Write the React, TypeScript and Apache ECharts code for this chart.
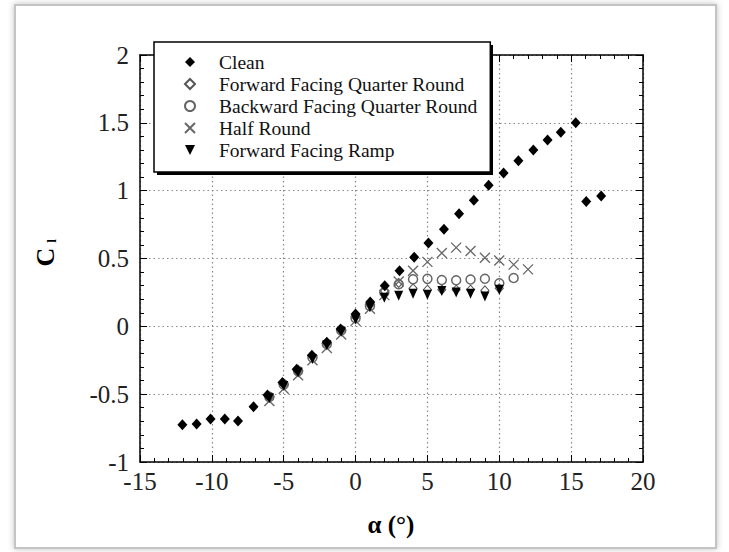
import React, { useEffect, useRef } from "react";
import * as echarts from "echarts";

// ---- data ----
const xTicks = [-15, -10, -5, 0, 5, 10, 15, 20];
const yTicks = [-1, -0.5, 0, 0.5, 1, 1.5, 2];

const seriesNames = [
  "Clean",
  "Forward Facing Quarter Round",
  "Backward Facing Quarter Round",
  "Half Round",
  "Forward Facing Ramp",
];

const cleanAlpha = [-12.05, -11.06, -10.09, -9.1, -8.18, -7.1, -6.13, -5.09, -4.1, -3.04, -2.0, -1.04, 0, 1.02, 2.03, 3.06, 4.08, 5.07, 6.15, 7.2, 8.23, 9.26, 10.3, 11.33, 12.37, 13.36, 14.28, 15.32, 16.05, 17.09];
const cleanCl = [-0.726, -0.719, -0.683, -0.683, -0.697, -0.592, -0.507, -0.414, -0.317, -0.214, -0.117, -0.02, 0.09, 0.18, 0.3, 0.41, 0.51, 0.615, 0.715, 0.83, 0.93, 1.04, 1.13, 1.22, 1.3, 1.373, 1.43, 1.5, 0.92, 0.96];

const fqrAlpha = [-6, -5, -4, -3, -2, -1, 0, 1, 2, 3, 4, 5, 6, 7, 8, 9, 10];
const fqrCl = [-0.52, -0.42, -0.32, -0.22, -0.12, -0.03, 0.07, 0.16, 0.26, 0.32, 0.28, 0.27, 0.27, 0.27, 0.27, 0.265, 0.28];

const bqrAlpha = [-6, -5, -4, -3, -2, -1, 0, 1, 2, 3, 4, 5, 6, 7, 8, 9, 10, 11];
const bqrCl = [-0.52, -0.43, -0.33, -0.23, -0.13, -0.03, 0.06, 0.15, 0.25, 0.31, 0.347, 0.35, 0.342, 0.34, 0.345, 0.351, 0.317, 0.356];

const halfAlpha = [-6, -5, -4, -3, -2, -1, 0, 1, 2, 3, 4, 5, 6, 7, 8, 9, 10, 11, 12];
const halfCl = [-0.55, -0.46, -0.36, -0.25, -0.16, -0.06, 0.04, 0.13, 0.23, 0.33, 0.41, 0.475, 0.54, 0.58, 0.555, 0.505, 0.485, 0.455, 0.42];

const rampAlpha = [-6, -5, -4, -3, -2, -1, 0, 1, 2, 3, 4, 5, 6, 7, 8, 9, 10];
const rampCl = [-0.53, -0.44, -0.34, -0.24, -0.14, -0.04, 0.05, 0.14, 0.21, 0.225, 0.24, 0.232, 0.26, 0.25, 0.24, 0.22, 0.27];

const pairs = (xs: number[], ys: number[]) => xs.map((x, i) => [x, ys[i]]);

const SERIF = '"Liberation Serif", "Times New Roman", serif';

export default function App() {
  const ref = useRef<HTMLDivElement>(null);

  useEffect(() => {
    const chart = echarts.init(ref.current!, null, { renderer: "svg" });

    const gridLeft = 140;
    const gridTop = 55;
    const gridW = 503;
    const gridH = 407;

    const baseAxis = {
      type: "value" as const,
      axisLine: { show: true, onZero: false, lineStyle: { color: "#000", width: 1.5 } },
      axisTick: { show: true, inside: true, length: 7, lineStyle: { color: "#000", width: 1 } },
      minorTick: { show: true, splitNumber: 5, length: 4, lineStyle: { color: "#000", width: 1 } },
      minorSplitLine: { show: false },
    };

    chart.setOption({
      animation: false,
      backgroundColor: "#fff",
      grid: { left: gridLeft, top: gridTop, width: gridW, height: gridH, containLabel: false },
      xAxis: [
        {
          ...baseAxis,
          position: "bottom",
          min: xTicks[0],
          max: xTicks[xTicks.length - 1],
          interval: 5,
          axisLabel: { show: true, margin: 7, fontFamily: SERIF, fontSize: 25, color: "#222" },
          splitLine: { show: true, lineStyle: { color: "#888", width: 1.2, type: [1.5, 3] } },
        },
        {
          ...baseAxis,
          position: "top",
          min: xTicks[0],
          max: xTicks[xTicks.length - 1],
          interval: 5,
          axisLabel: { show: false },
          splitLine: { show: false },
        },
      ],
      yAxis: [
        {
          ...baseAxis,
          position: "left",
          min: yTicks[0],
          max: yTicks[yTicks.length - 1],
          interval: 0.5,
          axisLabel: { show: true, margin: 11, fontFamily: SERIF, fontSize: 25, color: "#222" },
          splitLine: { show: true, lineStyle: { color: "#888", width: 1.2, type: [1.5, 3] } },
        },
        {
          ...baseAxis,
          position: "right",
          min: yTicks[0],
          max: yTicks[yTicks.length - 1],
          interval: 0.5,
          axisLabel: { show: false },
          splitLine: { show: false },
        },
      ],
      legend: {
        orient: "vertical",
        left: 154,
        top: 42,
        data: seriesNames,
        itemWidth: 10,
        itemHeight: 10,
        itemGap: 2,
        padding: [10, 13, 12, 30],
        backgroundColor: "#fff",
        borderColor: "#000",
        borderWidth: 1.5,
        borderRadius: 0,
        textStyle: { fontFamily: SERIF, fontSize: 19.5, color: "#111", lineHeight: 18, padding: [0, 0, 0, 19] },
        selectedMode: false,
      },
      graphic: [
        {
          type: "rect",
          z: -10,
          silent: true,
          shape: { x: 15, y: 5, width: 701, height: 543 },
          style: { fill: "#fff", stroke: "#c4c4c4", lineWidth: 2, shadowBlur: 6, shadowColor: "rgba(0,0,0,0.25)" },
        },
        {
          type: "rect",
          z: 1,
          silent: true,
          shape: { x: 157, y: 45, width: 336, height: 130 },
          style: { fill: "#000" },
        },
        {
          type: "text",
          silent: true,
          x: 45,
          y: 257,
          rotation: Math.PI / 2,
          style: {
            text: "C",
            fontFamily: SERIF,
            fontSize: 26,
            fontWeight: "bold",
            fill: "#000",
            textAlign: "center",
            textVerticalAlign: "middle",
            align: "center",
            verticalAlign: "middle",
          },
        },
        {
          type: "text",
          silent: true,
          x: 51,
          y: 241,
          rotation: Math.PI / 2,
          style: {
            text: "l",
            fontFamily: SERIF,
            fontSize: 13,
            fontWeight: "bold",
            fill: "#000",
            textAlign: "center",
            textVerticalAlign: "middle",
            align: "center",
            verticalAlign: "middle",
          },
        },
        {
          type: "text",
          silent: true,
          x: 391,
          y: 524,
          style: {
            text: "α (°)",
            fontFamily: SERIF,
            fontSize: 25,
            fontWeight: "bold",
            fill: "#000",
            textAlign: "center",
            textVerticalAlign: "middle",
            align: "center",
            verticalAlign: "middle",
          },
        },
      ],
      series: [
        {
          name: seriesNames[0],
          type: "scatter",
          z: 6,
          data: pairs(cleanAlpha, cleanCl),
          symbol: "diamond",
          symbolSize: [10, 11],
          itemStyle: { color: "#000", opacity: 1 },
        },
        {
          name: seriesNames[1],
          type: "scatter",
          z: 2,
          data: pairs(fqrAlpha, fqrCl),
          symbol: "diamond",
          symbolSize: [8, 9],
          itemStyle: { color: "#fff", borderColor: "#555", borderWidth: 1.1, opacity: 1 },
        },
        {
          name: seriesNames[2],
          type: "scatter",
          z: 3,
          data: pairs(bqrAlpha, bqrCl),
          symbol: "circle",
          symbolSize: 9,
          itemStyle: { color: "rgba(255,255,255,0)", borderColor: "#666", borderWidth: 1.5, opacity: 1 },
        },
        {
          name: seriesNames[3],
          type: "scatter",
          z: 4,
          data: pairs(halfAlpha, halfCl),
          symbol: "path://M0,0L10,10M10,0L0,10",
          symbolSize: 10,
          itemStyle: { color: "rgba(255,255,255,0)", borderColor: "#666", borderWidth: 1.3, opacity: 1 },
        },
        {
          name: seriesNames[4],
          type: "scatter",
          z: 5,
          data: pairs(rampAlpha, rampCl),
          symbol: "path://M0,0L10,0L5,10Z",
          symbolSize: [9, 10],
          itemStyle: { color: "#000", opacity: 1 },
        },
      ],
    });

    return () => chart.dispose();
  }, []);

  return (
    <div
      ref={ref}
      style={{ position: "fixed", left: 0, top: 0, width: 729, height: 552, background: "#fff" }}
    />
  );
}
